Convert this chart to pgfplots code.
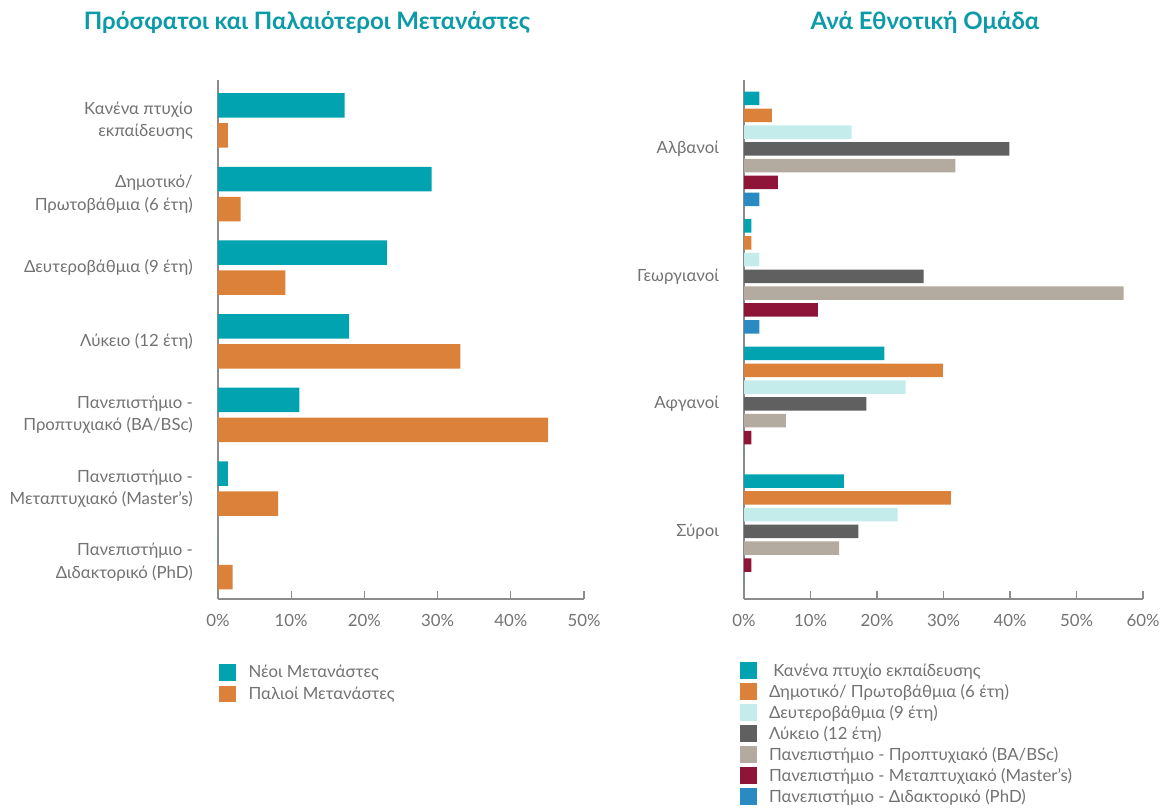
\documentclass[border=0pt]{standalone}
\usepackage{fontspec}
\setmainfont{Lato}
\usepackage{pgfplots}
\pgfplotsset{compat=1.18}
\definecolor{cTeal}{HTML}{00A3AF}
\definecolor{cOrange}{HTML}{DC813A}
\definecolor{cLight}{HTML}{C4ECEB}
\definecolor{cDark}{HTML}{606060}
\definecolor{cBeige}{HTML}{B3AAA0}
\definecolor{cMaroon}{HTML}{8E1537}
\definecolor{cBlue}{HTML}{2A8AC2}
\definecolor{cTitle}{HTML}{0B9AA8}
\definecolor{cText}{HTML}{727272}
\definecolor{cAxis}{HTML}{8C8C8C}
\newcommand{\lblfont}{\fontsize{16.8}{22.5}\selectfont}
\pgfplotsset{
  common/.style={
    scale only axis,
    height=519pt,
    xbar,
    axis lines*=left,
    axis line style={cAxis, line width=1.3pt},
    tick align=inside,
    xtick style={cAxis, line width=1.1pt},
    major tick length=8pt,
    ytick style={draw=none},
    /pgf/number format/assume math mode=true,
    xticklabel={\pgfmathprintnumber{\tick}\%},
    xticklabel style={font=\lblfont, text=cText, inner sep=0pt, yshift=-15pt},
    yticklabel style={font=\lblfont, text=cText, inner sep=0pt, xshift=-25pt, align=right},
    legend cell align=left,
    legend image code/.code={\path[#1,draw=none] (0pt,-8.3pt) rectangle (16.6pt,8.3pt);},
    clip=false,
  }
}
\begin{document}
\begin{tikzpicture}[x=1pt,y=1pt]
\useasboundingbox (0,0) rectangle (1162,807);
\node[font=\bfseries\fontsize{24}{28}\selectfont, text=cTitle] at (307,785) {Πρόσφατοι και Παλαιότεροι Μετανάστες};
\node[font=\bfseries\fontsize{24}{28}\selectfont, text=cTitle] at (925,785) {Ανά Εθνοτική Ομάδα};

\begin{axis}[common,
  at={(218pt,208pt)}, anchor=south west,
  width=366pt,
  xmin=0, xmax=50, ymin=-0.5, ymax=6.55,
  xtick={0,10,20,30,40,50},
  ytick={0,1,2,3,4,5,6},
  yticklabels={{Πανεπιστήμιο -\\Διδακτορικό (PhD)},
               {Πανεπιστήμιο -\\Μεταπτυχιακό (Master's)},
               {Πανεπιστήμιο -\\Προπτυχιακό (BA/BSc)},
               {Λύκειο (12 έτη)},
               {Δευτεροβάθμια (9 έτη)},
               {Δημοτικό/\\Πρωτοβάθμια (6 έτη)},
               {Κανένα πτυχίο\\εκπαίδευσης}},
  bar width=24.5pt,
  legend style={at={(0,0)}, anchor=north west, xshift=1pt, yshift=-65pt,
    draw=none, fill=none, inner sep=0pt, outer sep=0pt,
    row sep=5pt, column sep=13pt,
    font=\lblfont, text=cText, nodes={inner sep=0pt}},
]
\addplot[fill=cTeal, draw=none, bar shift=15pt] coordinates
  {(0,0) (1.35,1) (11.1,2) (17.9,3) (23.1,4) (29.2,5) (17.3,6)};
\addplot[fill=cOrange, draw=none, bar shift=-15pt] coordinates
  {(2.0,0) (8.2,1) (45.1,2) (33.1,3) (9.2,4) (3.1,5) (1.35,6)};
\legend{Νέοι Μετανάστες, Παλιοί Μετανάστες}
\end{axis}

\begin{axis}[common,
  at={(744pt,208pt)}, anchor=south west,
  width=399pt,
  xmin=0, xmax=60, ymin=-0.53, ymax=3.54,
  xtick={0,10,20,30,40,50,60},
  ytick={0,1,2,3},
  yticklabels={Σύροι, Αφγανοί, Γεωργιανοί, Αλβανοί},
  bar width=13.5pt,
  legend style={at={(0,0)}, anchor=north west, xshift=-4pt, yshift=-63pt,
    draw=none, fill=none, inner sep=0pt, outer sep=0pt,
    row sep=4pt, column sep=12pt,
    font=\lblfont, text=cText, nodes={inner sep=0pt}},
  legend image code/.code={\path[#1,draw=none] (0pt,-8.5pt) rectangle (17pt,8.5pt);},
]
\addplot[fill=cTeal, draw=none, bar shift=50.4pt] coordinates
  {(15.0,0) (21.1,1) (1.1,2) (2.3,3)};
\addplot[fill=cOrange, draw=none, bar shift=33.6pt] coordinates
  {(31.1,0) (29.9,1) (1.1,2) (4.2,3)};
\addplot[fill=cLight, draw=none, bar shift=16.8pt] coordinates
  {(23.1,0) (24.3,1) (2.3,2) (16.2,3)};
\addplot[fill=cDark, draw=none, bar shift=0pt] coordinates
  {(17.2,0) (18.4,1) (27.0,2) (39.9,3)};
\addplot[fill=cBeige, draw=none, bar shift=-16.8pt] coordinates
  {(14.3,0) (6.3,1) (57.1,2) (31.8,3)};
\addplot[fill=cMaroon, draw=none, bar shift=-33.6pt] coordinates
  {(1.1,0) (1.1,1) (11.1,2) (5.1,3)};
\addplot[fill=cBlue, draw=none, bar shift=-50.4pt] coordinates
  {(0,0) (0,1) (2.3,2) (2.3,3)};
\legend{{\ Κανένα πτυχίο εκπαίδευσης}, Δημοτικό/ Πρωτοβάθμια (6 έτη), Δευτεροβάθμια (9 έτη), Λύκειο (12 έτη), Πανεπιστήμιο - Προπτυχιακό (BA/BSc), Πανεπιστήμιο - Μεταπτυχιακό (Master's), Πανεπιστήμιο - Διδακτορικό (PhD)}
\end{axis}
\end{tikzpicture}
\end{document}
